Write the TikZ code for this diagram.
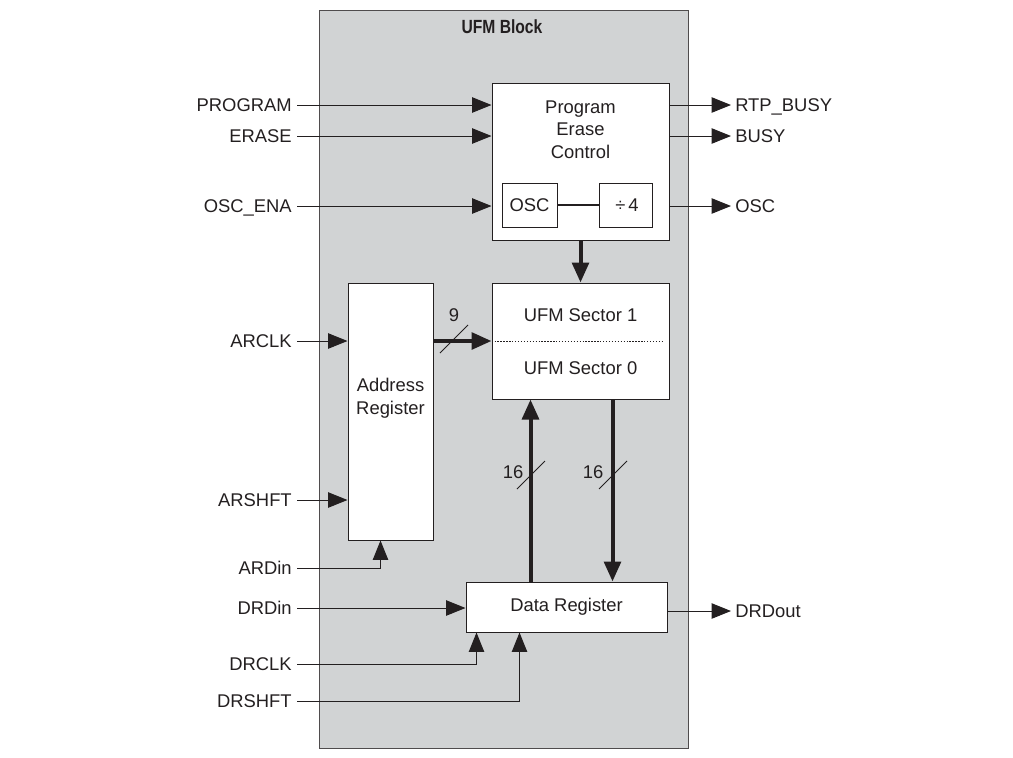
\documentclass[tikz,border=0pt]{standalone}
\usepackage{fontspec}
\setmainfont{Liberation Sans}
\usetikzlibrary{arrows.meta,calc}
\definecolor{ufmgrey}{HTML}{D1D3D4}
\definecolor{ink}{HTML}{231F20}
\begin{document}
\begin{tikzpicture}[x=0.75pt,y=-0.75pt,
  font=\fontsize{13.8}{17}\selectfont,
  every node/.style={text=ink},
  box/.style={draw=ink,line width=0.75pt,fill=white,inner sep=0pt},
  sig/.style={draw=ink,line width=0.75pt,-{Triangle[length=14.5pt,width=11.5pt]}},
  bus/.style={draw=ink,line width=3pt,-{Triangle[length=15pt,width=12.5pt]}},
  plain/.style={draw=ink,line width=0.75pt},
  inlbl/.style={anchor=east,inner xsep=3.75pt,inner ysep=0pt,text height=9.9pt,text depth=0pt},
  outlbl/.style={anchor=west,inner xsep=3pt,inner ysep=0pt,text height=9.9pt,text depth=0pt},
  txt/.style={inner sep=0pt,align=center}
]
\useasboundingbox (0,0) rectangle (1013,757);
% UFM block
\node[draw=ink!80,fill=ufmgrey,line width=0.75pt,inner sep=0pt,
      minimum width=276.75pt,minimum height=553.5pt] (blk) at (503.5,379) {};
\node[txt,font=\fontsize{14.3}{16}\selectfont\bfseries] (blktitle) at (502,27) {\scalebox{0.82}[1]{UFM Block}};
% boxes
\node[box,minimum width=132.75pt,minimum height=117.75pt] (pec) at (580.5,161.5) {};
\node[txt,font=\fontsize{13.8}{17}\selectfont] (pectext) at (580.5,129.5) {Program\\Erase\\Control};
\node[box,minimum width=41.25pt,minimum height=33pt] (osc) at (529.5,205) {OSC};
\node[box,minimum width=39.75pt,minimum height=33pt] (div) at (625.5,205) {\,÷\,4};
\node[box,minimum width=132.75pt,minimum height=87pt] (ufm) at (580.5,341) {};
\node[txt] (s1) at (580.5,315) {UFM Sector 1};
\node[txt] (s0) at (580.5,368) {UFM Sector 0};
\node[box,minimum width=63.75pt,minimum height=192.75pt] (ar) at (390.5,411.5) {};
\node[txt] (artext) at (390.5,398.5) {Address\\Register};
\node[box,minimum width=150.75pt,minimum height=37.5pt] (dr) at (566.5,607) {Data Register};
% dashed divider
\draw[ink,line width=0.6pt,dash pattern=on 1pt off 1.2pt] ([xshift=2.25pt]ufm.west) -- ([xshift=-4.5pt]ufm.east);
% osc link
\draw[ink,line width=2pt] (osc.east) -- (div.west);
% input labels
\node[inlbl] (program) at (297,105) {PROGRAM};
\node[inlbl] (erase) at (297,136) {ERASE};
\node[inlbl] (oscena) at (297,206) {OSC\_ENA};
\node[inlbl] (arclk) at (297,341) {ARCLK};
\node[inlbl] (arshft) at (297,500) {ARSHFT};
\node[inlbl] (ardin) at (297,568) {ARDin};
\node[inlbl] (drdin) at (297,608) {DRDin};
\node[inlbl] (drclk) at (297,664) {DRCLK};
\node[inlbl] (drshft) at (297,701) {DRSHFT};
% output labels
\node[outlbl] (rtpbusy) at (731,105) {RTP\_BUSY};
\node[outlbl] (busy) at (731,136) {BUSY};
\node[outlbl] (oscout) at (731,206) {OSC};
\node[outlbl] (drdout) at (731,611) {DRDout};
% input connectors
\draw[sig] (program.east) -- (program.east -| pec.west);
\draw[sig] (erase.east) -- (erase.east -| pec.west);
\draw[sig] (oscena.east) -- (oscena.east -| pec.west);
\draw[sig] (arclk.east) -- (arclk.east -| ar.west);
\draw[sig] (arshft.east) -- (arshft.east -| ar.west);
\draw[sig] (ardin.east) -| ([xshift=-7.5pt]ar.south);
\draw[sig] (drdin.east) -- (drdin.east -| dr.west);
\draw[sig] (drclk.east) -| ([xshift=8.25pt]dr.south west);
\draw[sig] (drshft.east) -| ([xshift=40.5pt]dr.south west);
% output connectors
\draw[sig] (rtpbusy.west -| pec.east) -- (rtpbusy.west);
\draw[sig] (busy.west -| pec.east) -- (busy.west);
\draw[sig] (oscout.west -| pec.east) -- (oscout.west);
\draw[sig] (drdout.west -| dr.east) -- (drdout.west);
% buses
\draw[bus] (pec.south) -- (ufm.north);
\draw[bus] (ufm.west -| ar.east) -- (ufm.west);
\coordinate (bu) at ([xshift=48.75pt]dr.north west);
\coordinate (bd) at ([xshift=110.25pt]dr.north west);
\draw[bus] (bu) -- (bu |- ufm.south);
\draw[bus] (bd |- ufm.south) -- (bd);
% bus width marks
\coordinate (m9) at (454,340);
\coordinate (m16a) at (531,475);
\coordinate (m16b) at (613,475);
\draw[plain] ($(m9)+(-14,13)$) -- ($(m9)+(14,-15)$);
\draw[plain] ($(m16a)+(-14,14)$) -- ($(m16a)+(14,-14)$);
\draw[plain] ($(m16b)+(-14,14)$) -- ($(m16b)+(14,-14)$);
\node[txt] (l9) at (454,315) {9};
\node[txt] (l16a) at (513,472) {16};
\node[txt] (l16b) at (593,472) {16};
\end{tikzpicture}
\end{document}
